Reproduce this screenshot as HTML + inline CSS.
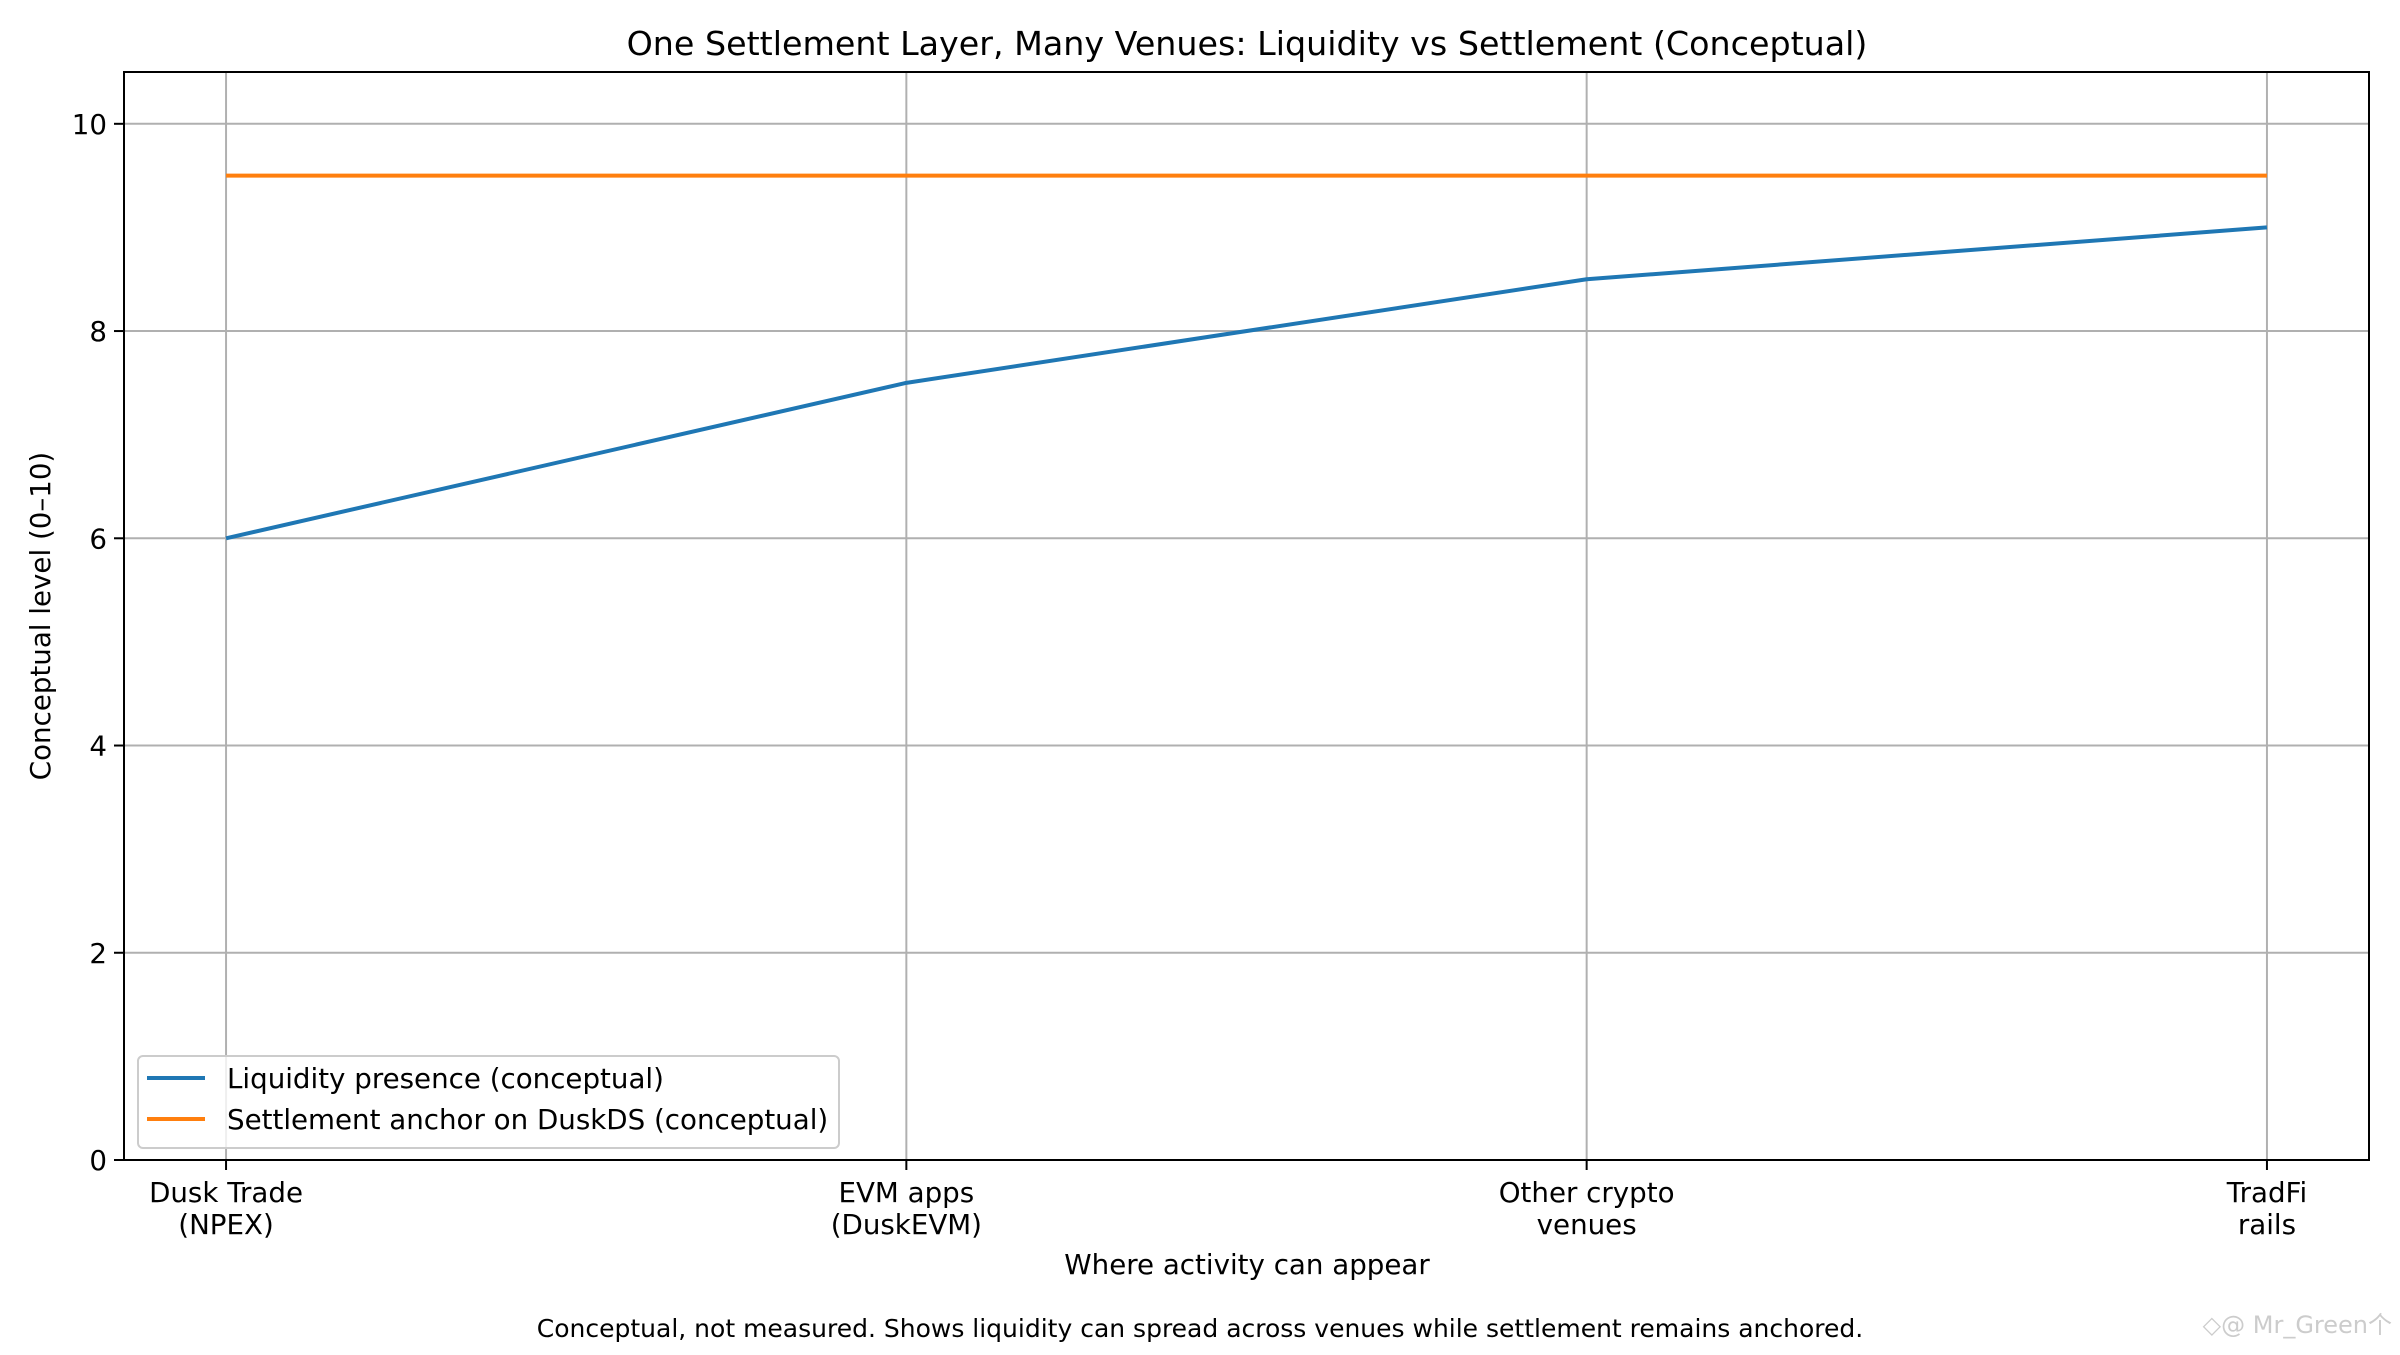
<!DOCTYPE html>
<html><head><meta charset="utf-8"><style>
body{margin:0;background:#fff}
svg text{font-family:"DejaVu Sans","Liberation Sans",sans-serif;fill:#000}
</style></head><body>
<svg id="chart" width="2400" height="1350" viewBox="0 0 2400 1350" xmlns="http://www.w3.org/2000/svg">
<rect width="2400" height="1350" fill="#fff"/>
<text x="1247" y="55" font-size="33.3" text-anchor="middle">One Settlement Layer, Many Venues: Liquidity vs Settlement (Conceptual)</text>
<g id="grid"></g>
<g id="series"></g>
<rect x="124" y="72" width="2245" height="1088" fill="none" stroke="#000" stroke-width="2"/>
<g id="ticks"></g>
<text x="1247" y="1274" font-size="27.7" text-anchor="middle">Where activity can appear</text>
<text x="50" y="616" font-size="27.7" text-anchor="middle" transform="rotate(-90 50 616)">Conceptual level (0–10)</text>
<g>
<rect x="138" y="1056" width="701" height="92" rx="5" fill="#fff" fill-opacity="0.8" stroke="#ccc" stroke-width="2"/>
<line x1="147" y1="1078" x2="205" y2="1078" stroke="#1f77b4" stroke-width="4"/>
<text x="227" y="1088" font-size="27.7">Liquidity presence (conceptual)</text>
<line x1="147" y1="1119" x2="205" y2="1119" stroke="#ff7f0e" stroke-width="4"/>
<text x="227" y="1129" font-size="27.7">Settlement anchor on DuskDS (conceptual)</text>
</g>
<text x="1200" y="1337" font-size="25" text-anchor="middle">Conceptual, not measured. Shows liquidity can spread across venues while settlement remains anchored.</text>
<text x="2392" y="1333" font-size="24" text-anchor="end" style="fill:#ccc">◇@ Mr_Green个</text>
</svg>
<script>
const categories=[["Dusk Trade","(NPEX)"],["EVM apps","(DuskEVM)"],["Other crypto","venues"],["TradFi","rails"]];
const liquidity=[6,7.5,8.5,9];
const settlement=[9.5,9.5,9.5,9.5];
const yTicks=[0,2,4,6,8,10];
const X0=124,X1=2369,Y0=1160,Y1=72;
const xMin=-0.15,xMax=3.15,yMin=0,yMax=10.5;
const sx=i=>X0+(i-xMin)/(xMax-xMin)*(X1-X0);
const sy=v=>Y0-(v-yMin)/(yMax-yMin)*(Y0-Y1);
const NS="http://www.w3.org/2000/svg";
const grid=document.getElementById('grid'),ticks=document.getElementById('ticks'),series=document.getElementById('series');
function mk(tag,attrs,parent){const e=document.createElementNS(NS,tag);for(const k in attrs)e.setAttribute(k,attrs[k]);parent.appendChild(e);return e;}
categories.forEach((c,i)=>{
 const x=sx(i);
 const g=mk('line',{x1:x,x2:x,y1:Y1,y2:Y0,stroke:'#b0b0b0','stroke-width':2},grid);
 
 
 const t=mk('line',{x1:x,x2:x,y1:Y0,y2:Y0+10,stroke:'#000','stroke-width':2},ticks);
 
 
 c.forEach((s,j)=>{const tx=mk('text',{x:x,y:1202+j*32,'font-size':27.7,'text-anchor':'middle'},ticks);tx.textContent=s;
 
 });
});
yTicks.forEach(v=>{
 const y=sy(v);
 const g=mk('line',{x1:X0,x2:X1,y1:y,y2:y,stroke:'#b0b0b0','stroke-width':2},grid);
 
 
 const t=mk('line',{x1:X0-10,x2:X0,y1:y,y2:y,stroke:'#000','stroke-width':2},ticks);
 
 
 const tx=mk('text',{x:X0-17,y:y+10,'font-size':27.7,'text-anchor':'end'},ticks);tx.textContent=v;
 
 
});
function line(vals,color,name){
 const p=mk('polyline',{points:vals.map((v,i)=>sx(i)+','+sy(v)).join(' '),fill:'none',stroke:color,'stroke-width':4,'stroke-linejoin':'round'},series);
 
 
}
line(liquidity,'#1f77b4','liquidity-line');
line(settlement,'#ff7f0e','settlement-line');
</script>
</body></html>
